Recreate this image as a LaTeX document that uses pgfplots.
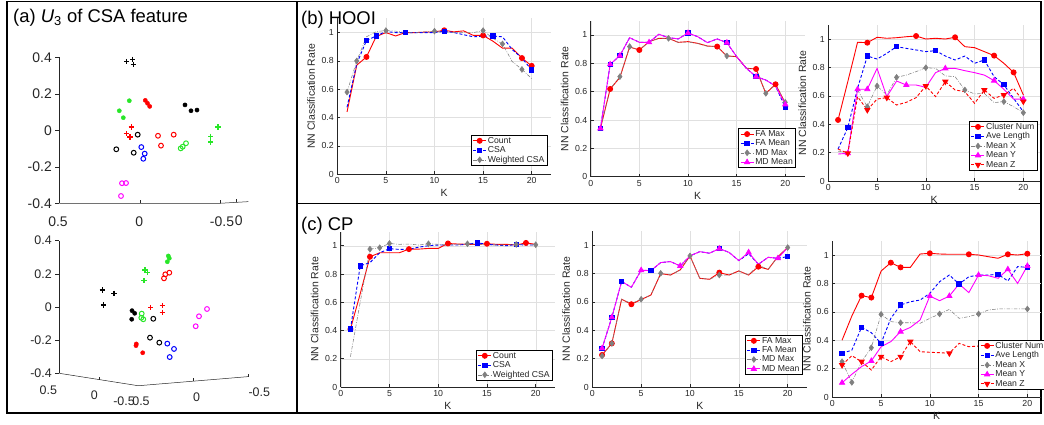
\documentclass[border=0pt]{standalone}
\usepackage{pgfplots}
\pgfplotsset{compat=1.18}
\usepackage{fontspec}
\setmainfont{Liberation Sans}
\definecolor{mred}{rgb}{1,0,0}
\definecolor{mblue}{rgb}{0,0,1}
\definecolor{mgray}{rgb}{0.5,0.5,0.5}
\definecolor{mmag}{rgb}{1,0,1}
\definecolor{mgreen}{RGB}{40,230,40}
\definecolor{axc}{rgb}{0.15,0.15,0.15}
\pgfplotsset{
 nn/.style={
  scale only axis, clip=false,
  xmin=0, xmax=22, ymin=0, ymax=1.1,
  xtick={0,5,10,15,20}, ytick={0,0.2,0.4,0.6,0.8,1},
  axis lines=left, axis line style={-, draw=axc, line width=0.5bp},
  tick align=inside, major tick length=3bp, tick style={axc, line width=0.5bp},
  grid=major, major grid style={black!12, line width=0.4bp},
  tick label style={font=\fontsize{8.8}{10}\selectfont, text=axc},
  /pgf/number format/assume math mode=true,
  xlabel={K}, ylabel={NN Classification Rate},
  label style={font=\fontsize{10.5}{12}\selectfont, text=axc},
  xlabel style={at={(axis description cs:0.5,-0.122)}, anchor=center},
  ylabel style={at={(axis description cs:-0.122,0.5)}, anchor=center},
  legend cell align=left,
  legend style={font=\fontsize{8.7}{9.7}\selectfont, text=axc, draw=black, line width=0.6bp, fill=white,
    anchor=north west, inner xsep=1.5bp, inner ysep=0.5bp, row sep=-0.5bp, nodes={inner sep=1.2bp}},
  legend image code/.code={\draw[mark indices={2}] plot coordinates {(0bp,0bp) (6.5bp,0bp) (13bp,0bp)};},
 },
 sRed/.style={color=mred, line width=0.9bp, solid, mark=*, mark size=2.5bp, mark options={solid, fill=mred}},
 sBlue/.style={color=mblue, line width=0.9bp, dash pattern=on 3bp off 2bp, mark=square*, mark size=2.2bp, mark options={solid, fill=mblue}},
 sGray/.style={color=mgray, line width=0.55bp, dash pattern=on 3.5bp off 1.5bp on 0.8bp off 1.5bp, mark=diamond*, mark size=2.9bp, mark options={solid, fill=mgray}},
 sMag/.style={color=mmag, line width=0.9bp, solid, mark=triangle*, mark size=2.9bp, mark options={solid, fill=mmag}},
 sRedDash/.style={color=mred, line width=0.9bp, dash pattern=on 3bp off 2bp, mark=triangle*, mark size=2.9bp, mark options={solid, fill=mred, rotate=180}},
 td/.style={
  scale only axis, clip=false, xmin=59.3, xmax=250, ymin=-0.4, ymax=0.4,
  axis x line=none, axis y line=left, axis line style={-, draw=axc, line width=0.5bp},
  ytick={-0.4,-0.2,0,0.2,0.4}, yticklabels={-0.4,-0.2,0,0.2,0.4},
  tick align=outside, major tick length=4bp, tick style={axc, line width=0.5bp},
 },
 pO/.style={only marks, mark=o, mark size=2.4bp, line width=1bp},
 pF/.style={only marks, mark=*, mark size=2.1bp},
 pP/.style={only marks, mark=+, mark size=2.7bp, line width=1.2bp},
}
\begin{document}
\begin{tikzpicture}[x=1bp,y=1bp]
\useasboundingbox (0,0) rectangle (1044,424);
% frames
\draw[line width=1.6bp] (7,11) rectangle (297,422.5);
\draw[line width=1.6bp] (297,11) rectangle (1041,422.5);
\draw[line width=1.6bp] (297,220.5) -- (1041,220.5);
% titles
\node[anchor=base west, inner sep=0, font=\fontsize{18.5}{20}\selectfont] at (13,401.3) {(a) \textit{U}\textsubscript{3} of CSA feature};
\node[anchor=base west, inner sep=0, font=\fontsize{18.5}{20}\selectfont] at (301,399) {(b) HOOI};
\node[anchor=base west, inner sep=0, font=\fontsize{18.5}{20}\selectfont] at (301,194) {(c) CP};

% ---------- (a) top 3D scatter ----------
\begin{axis}[td, at={(59.3bp,220.7bp)}, anchor=south west, width=190.7bp, height=146bp,
  yticklabel style={font=\fontsize{14}{16}\selectfont, text=axc}]
\addplot[axc, line width=0.5bp] coordinates {(59.3,-0.4) (220,-0.4) (248.3,-0.391)};
\addplot[axc, line width=0.5bp] coordinates {(140,-0.4) (140,-0.384)};
\addplot[axc, line width=0.5bp] coordinates {(220,-0.4) (220,-0.384)};
\addplot[axc, line width=0.5bp] coordinates {(236.7,-0.395) (236.7,-0.379)};
\addplot[pP, black] coordinates {(126.7,0.376) (132.7,0.389) (133.3,0.362)};
\addplot[pF, mgreen] coordinates {(129.3,0.162) (119.3,0.107) (123.3,0.069)};
\addplot[pF, mred] coordinates {(145.3,0.164) (147.5,0.148) (149.7,0.131)};
\addplot[pF, black] coordinates {(185,0.139) (191,0.107) (197,0.111)};
\addplot[pP, mred] coordinates {(131.3,0.018) (126.3,-0.019) (130,-0.037)};
\addplot[pO, black] coordinates {(137.7,-0.024) (116.3,-0.104) (133.7,-0.123)};
\addplot[pO, mred] coordinates {(158,-0.030) (161,-0.084) (173.7,-0.024)};
\addplot[pO, mgreen] coordinates {(180.7,-0.099) (182.7,-0.090) (186,-0.071)};
\addplot[pP, mgreen] coordinates {(218,0.018) (210.7,-0.033) (210.7,-0.064)};
\addplot[pO, mblue] coordinates {(141.3,-0.092) (144.7,-0.128) (143.3,-0.156)};
\addplot[pO, mmag] coordinates {(122,-0.290) (126,-0.289) (121,-0.360)};
\node[font=\fontsize{14}{16}\selectfont, text=axc] at (axis cs:58,-0.501) {0.5};
\node[font=\fontsize{14}{16}\selectfont, text=axc] at (axis cs:139.3,-0.501) {0};
\node[font=\fontsize{14}{16}\selectfont, text=axc] at (axis cs:222,-0.502) {-0.5};
\node[font=\fontsize{14}{16}\selectfont, text=axc] at (axis cs:238.7,-0.495) {0};
\end{axis}

% ---------- (a) bottom 3D scatter ----------
\begin{axis}[td, at={(59.3bp,50.7bp)}, anchor=south west, width=190.7bp, height=132.6bp,
  yticklabel style={font=\fontsize{12.5}{14}\selectfont, text=axc}]
\addplot[axc, line width=0.5bp] coordinates {(59.3,-0.4) (138.3,-0.475) (248.3,-0.420)};
\addplot[axc, line width=0.5bp] coordinates {(99.3,-0.438) (99.3,-0.420)};
\addplot[axc, line width=0.5bp] coordinates {(193.3,-0.4475) (193.3,-0.4295)};
\addplot[axc, line width=0.5bp] coordinates {(248.3,-0.420) (248.3,-0.402)};
\addplot[pF, mgreen] coordinates {(168.3,0.308) (169.3,0.294) (167.3,0.273)};
\addplot[pP, mgreen] coordinates {(145,0.223) (147.7,0.207) (144,0.159)};
\addplot[pO, mred] coordinates {(165.3,0.197) (169.3,0.207) (164,0.173)};
\addplot[pP, black] coordinates {(102.3,0.103) (114,0.083) (103.7,0.012)};
\addplot[pP, mred] coordinates {(162.3,0.008) (150.7,-0.004) (162.3,-0.032)};
\addplot[pF, black] coordinates {(132,-0.022) (134.7,-0.038) (131.7,-0.074)};
\addplot[pO, mgreen] coordinates {(141.7,-0.040) (141.3,-0.065) (143.3,-0.074)};
\addplot[pO, black] coordinates {(153.3,-0.071) (150,-0.185) (159.3,-0.215)};
\addplot[pO, mmag] coordinates {(207,-0.012) (199,-0.056) (195.7,-0.116)};
\addplot[pF, mred] coordinates {(136.3,-0.223) (136,-0.233) (142.7,-0.276)};
\addplot[pO, mblue] coordinates {(167.3,-0.221) (174,-0.253) (169.7,-0.302)};
\node[font=\fontsize{12.5}{14}\selectfont, text=axc] at (axis cs:48.3,-0.501) {0.5};
\node[font=\fontsize{12.5}{14}\selectfont, text=axc] at (axis cs:94.3,-0.531) {0};
\node[font=\fontsize{12.5}{14}\selectfont, text=axc] at (axis cs:124,-0.571) {-0.5};
\node[font=\fontsize{12.5}{14}\selectfont, text=axc] at (axis cs:141,-0.571) {0.5};
\node[font=\fontsize{12.5}{14}\selectfont, text=axc] at (axis cs:196.7,-0.545) {0};
\node[font=\fontsize{12.5}{14}\selectfont, text=axc] at (axis cs:259.3,-0.517) {-0.5};
\end{axis}

% ---------- (b) HOOI 1 ----------
\begin{axis}[nn, at={(337.3bp,249.7bp)}, anchor=south west, width=213.8bp, height=155.9bp,
  legend style={at={(axis description cs:0.625,0.252)}}]
\addplot[sRed, mark indices={3,11,15,19,20}] coordinates {(1,0.44)(2,0.77)(3,0.828)(4,0.972)(5,1.0)(6,0.976)(7,1.0)(8,1.0)(9,1.003)(10,1.005)(11,1.016)(12,1.005)(13,1.012)(14,0.98)(15,0.98)(16,0.94)(17,0.89)(18,0.89)(19,0.82)(20,0.765)};
\addlegendentry{Count}
\addplot[sBlue, mark indices={3,4,7,11,16,20}] coordinates {(1,0.473)(2,0.78)(3,0.944)(4,0.976)(5,1.007)(6,1.0)(7,1.0)(8,1.0)(9,1.0)(10,1.0)(11,1.01)(12,1.0)(13,0.985)(14,0.97)(15,0.975)(16,0.976)(17,0.97)(18,0.88)(19,0.82)(20,0.736)};
\addlegendentry{CSA}
\addplot[sGray, mark indices={1,2,5,10,15,17,19}] coordinates {(1,0.58)(2,0.80)(3,0.97)(4,1.007)(5,1.014)(6,1.01)(7,1.0)(8,1.0)(9,1.005)(10,1.01)(11,1.0)(12,1.0)(13,1.0)(14,1.0)(15,1.014)(16,0.96)(17,0.92)(18,0.795)(19,0.74)(20,0.675)};
\addlegendentry{Weighted CSA}
\end{axis}

% ---------- (b) HOOI 2 ----------
\begin{axis}[nn, at={(590.7bp,247.3bp)}, anchor=south west, width=214bp, height=155.9bp,
  legend style={at={(axis description cs:0.69,0.31)}}]
\addplot[sRed, mark indices={2,5,13,17,19}] coordinates {(1,0.341)(2,0.619)(3,0.70)(4,0.915)(5,0.894)(6,0.953)(7,0.976)(8,0.976)(9,0.948)(10,0.953)(11,0.941)(12,0.922)(13,0.918)(14,0.852)(15,0.847)(16,0.765)(17,0.76)(18,0.588)(19,0.652)(20,0.52)};
\addlegendentry{FA Max}
\addplot[sBlue, mark indices={1,2,3,10,14,17,20}] coordinates {(1,0.341)(2,0.793)(3,0.854)(4,0.981)(5,0.948)(6,0.948)(7,1.005)(8,0.981)(9,0.972)(10,1.014)(11,0.988)(12,0.946)(13,0.972)(14,0.946)(15,0.847)(16,0.765)(17,0.706)(18,0.682)(19,0.64)(20,0.489)};
\addlegendentry{FA Mean}
\addplot[sGray, mark indices={3,4,8,14,18,20}] coordinates {(1,0.341)(2,0.62)(3,0.706)(4,0.918)(5,0.894)(6,0.95)(7,0.976)(8,0.976)(9,0.948)(10,0.95)(11,0.94)(12,0.92)(13,0.918)(14,0.852)(15,0.847)(16,0.765)(17,0.765)(18,0.588)(19,0.648)(20,0.525)};
\addlegendentry{MD Max}
\addplot[sMag, mark indices={1,2,3,6,10,14,17,20}] coordinates {(1,0.341)(2,0.793)(3,0.854)(4,0.981)(5,0.948)(6,0.948)(7,1.005)(8,0.981)(9,0.972)(10,1.014)(11,0.988)(12,0.946)(13,0.972)(14,0.946)(15,0.847)(16,0.765)(17,0.706)(18,0.682)(19,0.64)(20,0.51)};
\addlegendentry{MD Mean}
\end{axis}

% ---------- (b) HOOI 3 ----------
\begin{axis}[nn, at={(828.3bp,243bp)}, anchor=south west, xmax=21.7, width=211.6bp, height=156.2bp,
  legend style={at={(axis description cs:0.666,0.384)}}]
\addplot[sRed, mark indices={1,4,9,13,17,19}] coordinates {(1,0.43)(2,0.70)(3,0.977)(4,0.974)(5,1.012)(6,1.005)(7,1.009)(8,1.016)(9,1.021)(10,1.0)(11,1.005)(12,1.0)(13,1.012)(14,0.946)(15,0.939)(16,0.911)(17,0.883)(18,0.829)(19,0.765)(20,0.606)};
\addlegendentry{Cluster Num}
\addplot[sBlue, mark indices={2,4,7,11,16,18}] coordinates {(1,0.225)(2,0.376)(3,0.653)(4,0.88)(5,0.859)(6,0.899)(7,0.946)(8,0.934)(9,0.923)(10,0.911)(11,0.918)(12,0.88)(13,0.852)(14,0.88)(15,0.829)(16,0.852)(17,0.735)(18,0.678)(19,0.582)(20,0.488)};
\addlegendentry{Ave Length}
\addplot[sGray, mark indices={4,5,7,10,14,18,20}] coordinates {(1,0.21)(2,0.20)(3,0.64)(4,0.523)(5,0.669)(6,0.606)(7,0.73)(8,0.746)(9,0.77)(10,0.798)(11,0.793)(12,0.74)(13,0.735)(14,0.641)(15,0.613)(16,0.617)(17,0.552)(18,0.559)(19,0.523)(20,0.481)};
\addlegendentry{Mean X}
\addplot[sMag, mark indices={2,3,4,8,12,17,20}] coordinates {(1,0.19)(2,0.195)(3,0.646)(4,0.646)(5,0.793)(6,0.594)(7,0.704)(8,0.676)(9,0.676)(10,0.66)(11,0.763)(12,0.793)(13,0.793)(14,0.777)(15,0.763)(16,0.746)(17,0.707)(18,0.646)(19,0.577)(20,0.577)};
\addlegendentry{Mean Y}
\addplot[sRedDash, mark indices={2,4,6,10,12,16,18,20}] coordinates {(1,0.225)(2,0.195)(3,0.594)(4,0.5)(5,0.577)(6,0.587)(7,0.535)(8,0.554)(9,0.587)(10,0.669)(11,0.594)(12,0.70)(13,0.641)(14,0.629)(15,0.547)(16,0.641)(17,0.582)(18,0.606)(19,0.653)(20,0.56)};
\addlegendentry{Mean Z}
\end{axis}

% ---------- (c) CP 1 ----------
\begin{axis}[nn, at={(340.7bp,37bp)}, anchor=south west, width=214.5bp, height=155.4bp,
  legend style={at={(axis description cs:0.631,0.238)}}]
\addplot[sRed, mark indices={1,3,7,11,15,19}] coordinates {(1,0.41)(2,0.66)(3,0.922)(4,0.95)(5,0.95)(6,0.95)(7,0.976)(8,0.976)(9,0.981)(10,0.981)(11,1.016)(12,1.012)(13,1.01)(14,1.01)(15,1.014)(16,1.01)(17,1.01)(18,1.005)(19,1.02)(20,1.01)};
\addlegendentry{Count}
\addplot[sBlue, mark indices={1,2,5,14,18}] coordinates {(1,0.41)(2,0.858)(3,0.88)(4,0.95)(5,0.979)(6,0.974)(7,0.974)(8,0.99)(9,1.0)(10,1.005)(11,1.005)(12,1.005)(13,1.01)(14,1.021)(15,1.01)(16,1.005)(17,1.0)(18,1.009)(19,1.005)(20,1.005)};
\addlegendentry{CSA}
\addplot[sGray, mark indices={3,4,5,9,13,18,20}] coordinates {(1,0.215)(2,0.6)(3,0.976)(4,0.986)(5,1.016)(6,1.01)(7,1.012)(8,1.005)(9,1.014)(10,1.01)(11,1.01)(12,1.01)(13,1.014)(14,1.01)(15,1.005)(16,1.005)(17,1.005)(18,1.009)(19,1.005)(20,1.007)};
\addlegendentry{Weighted CSA}
\end{axis}

% ---------- (c) CP 2 ----------
\begin{axis}[nn, at={(592.3bp,37bp)}, anchor=south west, width=214.9bp, height=155.9bp,
  legend style={at={(axis description cs:0.711,0.333)}}]
\addplot[sRed, mark indices={1,2,4,13,17}] coordinates {(1,0.226)(2,0.308)(3,0.619)(4,0.584)(5,0.617)(6,0.649)(7,0.80)(8,0.79)(9,0.826)(10,0.925)(11,0.767)(12,0.76)(13,0.807)(14,0.79)(15,0.819)(16,0.79)(17,0.849)(18,0.83)(19,0.92)(20,0.984)};
\addlegendentry{FA Max}
\addplot[sBlue, mark indices={1,2,3,6,13,20}] coordinates {(1,0.273)(2,0.492)(3,0.744)(4,0.704)(5,0.824)(6,0.821)(7,0.878)(8,0.885)(9,0.854)(10,0.925)(11,0.955)(12,0.944)(13,0.976)(14,0.95)(15,0.892)(16,0.94)(17,0.866)(18,0.915)(19,0.908)(20,0.92)};
\addlegendentry{FA Mean}
\addplot[sGray, mark indices={1,2,5,7,10,13,20}] coordinates {(1,0.219)(2,0.308)(3,0.619)(4,0.59)(5,0.619)(6,0.649)(7,0.802)(8,0.79)(9,0.826)(10,0.925)(11,0.767)(12,0.76)(13,0.79)(14,0.79)(15,0.819)(16,0.79)(17,0.86)(18,0.83)(19,0.92)(20,0.984)};
\addlegendentry{MD Max}
\addplot[sMag, mark indices={1,2,5,9,13,16,19}] coordinates {(1,0.273)(2,0.492)(3,0.744)(4,0.704)(5,0.824)(6,0.821)(7,0.878)(8,0.885)(9,0.854)(10,0.925)(11,0.955)(12,0.944)(13,0.976)(14,0.95)(15,0.892)(16,0.95)(17,0.866)(18,0.915)(19,0.908)(20,0.984)};
\addlegendentry{MD Mean}
\end{axis}

% ---------- (c) CP 3 ----------
\begin{axis}[nn, at={(832.3bp,27bp)}, anchor=south west, xmax=21.4, width=208.7bp, height=156.2bp,
  legend style={at={(axis description cs:0.70,0.365)}}]
\addplot[sRed, mark indices={3,4,6,7,10,14,18,20}] coordinates {(1,0.40)(2,0.57)(3,0.714)(4,0.70)(5,0.887)(6,0.946)(7,0.913)(8,0.913)(9,1.007)(10,1.012)(11,1.007)(12,1.005)(13,1.005)(14,1.005)(15,1.0)(16,0.988)(17,0.977)(18,1.005)(19,1.0)(20,1.009)};
\addlegendentry{Cluster Num}
\addplot[sBlue, mark indices={1,3,5,7,13,17,20}] coordinates {(1,0.307)(2,0.33)(3,0.49)(4,0.453)(5,0.378)(6,0.554)(7,0.648)(8,0.671)(9,0.683)(10,0.73)(11,0.812)(12,0.859)(13,0.796)(14,0.847)(15,0.859)(16,0.859)(17,0.864)(18,0.817)(19,0.918)(20,0.913)};
\addlegendentry{Ave Length}
\addplot[sGray, mark indices={1,2,4,5,7,11,15,20}] coordinates {(1,0.249)(2,0.103)(3,0.249)(4,0.347)(5,0.582)(6,0.531)(7,0.523)(8,0.523)(9,0.519)(10,0.554)(11,0.585)(12,0.617)(13,0.554)(14,0.566)(15,0.585)(16,0.613)(17,0.62)(18,0.62)(19,0.62)(20,0.62)};
\addlegendentry{Mean X}
\addplot[sMag, mark indices={1,4,7,10,12,15,18,20}] coordinates {(1,0.10)(2,0.16)(3,0.214)(4,0.254)(5,0.354)(6,0.39)(7,0.46)(8,0.49)(9,0.542)(10,0.711)(11,0.678)(12,0.711)(13,0.796)(14,0.735)(15,0.859)(16,0.854)(17,0.836)(18,0.899)(19,0.80)(20,0.923)};
\addlegendentry{Mean Y}
\addplot[sRedDash, mark indices={1,3,5,7,8,12}] coordinates {(1,0.225)(2,0.291)(3,0.249)(4,0.19)(5,0.284)(6,0.249)(7,0.284)(8,0.39)(9,0.319)(10,0.315)(11,0.312)(12,0.308)(13,0.378)(14,0.354)(15,0.359)(16,0.36)(17,0.37)(18,0.37)(19,0.36)(20,0.37)};
\addlegendentry{Mean Z}
\end{axis}
\end{tikzpicture}
\end{document}
